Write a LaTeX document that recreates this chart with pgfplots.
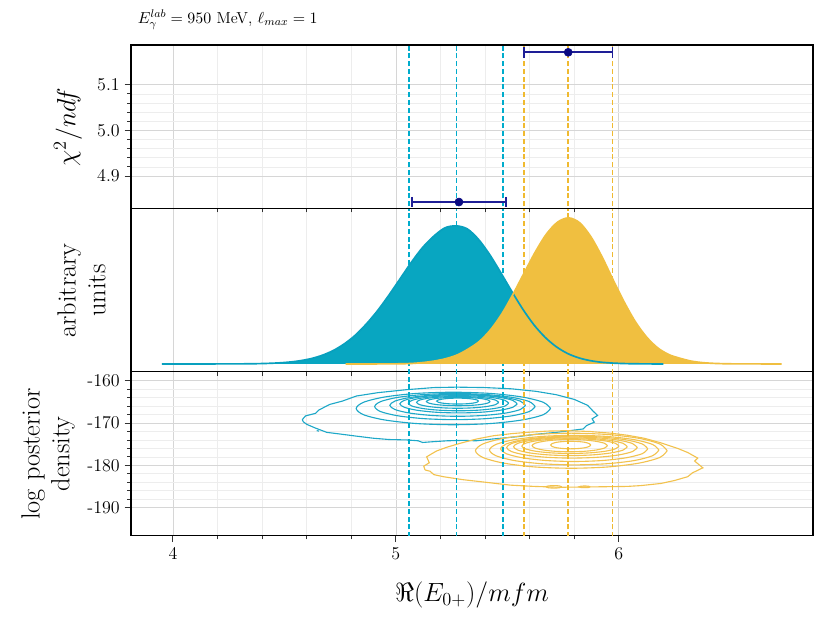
\RequirePackage{fix-cm}
\documentclass[border=0pt]{standalone}
\usepackage{pgfplots}
\pgfplotsset{compat=1.18}
\definecolor{cyF}{RGB}{8,166,193}
\definecolor{cyL}{RGB}{8,160,190}
\definecolor{cyD}{RGB}{0,172,204}
\definecolor{cyC}{RGB}{30,168,200}
\definecolor{orF}{RGB}{240,191,64}
\definecolor{orD}{RGB}{240,186,48}
\definecolor{orC}{RGB}{242,194,78}
\definecolor{navyM}{RGB}{10,10,130}
\definecolor{navyB}{RGB}{30,30,150}
\pgfplotsset{
  panel/.style={
    scale only axis, width=491.04bp, xmin=3.812, xmax=6.871,
    xtick={4,5,6}, minor x tick num=4,
    tick align=outside, tick pos=left,
    major tick length=4.6bp, minor tick length=2.6bp,
    every tick/.style={black!80, line width=0.6bp},
    axis line style={line width=0.8bp},
    grid=both,
    major grid style={black!16, line width=0.5bp},
    minor grid style={black!7, line width=0.4bp},
    tick label style={font=\fontsize{13}{15}\selectfont},
    label style={font=\fontsize{19}{21.6}\selectfont},
    ylabel style={at={(axis description cs:-0.0726,0.5)}, anchor=center, align=center},
    /pgf/number format/assume math mode=true,
  },
  vdash/.style={line width=1.1bp, dash pattern=on 3.6bp off 2bp},
  cont/.style={line width=0.8bp},
}
\begin{document}
\begin{tikzpicture}
% ---------------- bottom panel ----------------
\begin{axis}[panel, at={(0,0)}, anchor=south west, height=118bp,
  ymin=-196.7, ymax=-157.9, ytick={-190,-180,-170,-160}, minor y tick num=4,
  xlabel={$\Re(E_{0+})/mfm$},
  xlabel style={at={(axis description cs:0.5,-0.36)}, anchor=center},
  ylabel={log posterior\\density},
  ylabel style={at={(axis description cs:-0.1217,0.5)}}]
% cyan contours
\addplot[cyC, cont] coordinates {(4.580,-169.2) (4.595,-168.3) (4.640,-167.7) (4.655,-166.9) (4.703,-165.6) (4.760,-164.8) (4.823,-163.6) (4.920,-162.8) (5.048,-162.1) (5.170,-161.6) (5.273,-161.5) (5.400,-161.6) (5.520,-161.9) (5.630,-162.5) (5.720,-163.3) (5.800,-164.4) (5.860,-165.8) (5.885,-167.2) (5.905,-168.2) (5.880,-169.0) (5.890,-169.8) (5.855,-170.6) (5.840,-171.4) (5.720,-172.2) (5.620,-172.7) (5.550,-173.2) (5.430,-173.8) (5.360,-174.2) (5.300,-174.1) (5.230,-174.2) (5.170,-174.4) (5.120,-174.6) (5.100,-174.2) (5.050,-174.0) (4.970,-173.9) (4.900,-173.6) (4.823,-173.1) (4.750,-172.6) (4.690,-172.2) (4.660,-171.6) (4.640,-171.2) (4.600,-170.3) (4.585,-169.7) (4.580,-169.2)};
\addplot[cyC, cont, smooth] coordinates {(5.694,-166.55) (5.661,-165.08) (5.566,-163.83) (5.425,-162.99) (5.258,-162.70) (5.091,-162.99) (4.950,-163.83) (4.855,-165.08) (4.822,-166.55) (4.855,-168.03) (4.950,-169.27) (5.091,-170.11) (5.258,-170.40) (5.425,-170.11) (5.566,-169.27) (5.661,-168.03) (5.694,-166.55)};
\addplot[cyC, cont, smooth] coordinates {(5.625,-166.10) (5.598,-164.91) (5.520,-163.91) (5.403,-163.24) (5.265,-163.00) (5.127,-163.24) (5.010,-163.91) (4.932,-164.91) (4.905,-166.10) (4.932,-167.29) (5.010,-168.29) (5.127,-168.96) (5.265,-169.20) (5.403,-168.96) (5.520,-168.29) (5.598,-167.29) (5.625,-166.10)};
\addplot[cyC, cont, smooth] coordinates {(5.581,-165.80) (5.558,-164.80) (5.492,-163.96) (5.393,-163.40) (5.277,-163.20) (5.161,-163.40) (5.062,-163.96) (4.996,-164.80) (4.973,-165.80) (4.996,-166.80) (5.062,-167.64) (5.161,-168.20) (5.277,-168.40) (5.393,-168.20) (5.492,-167.64) (5.558,-166.80) (5.581,-165.80)};
\addplot[cyC, cont, smooth] coordinates {(5.544,-165.45) (5.524,-164.63) (5.467,-163.93) (5.382,-163.46) (5.281,-163.30) (5.180,-163.46) (5.095,-163.93) (5.038,-164.63) (5.018,-165.45) (5.038,-166.27) (5.095,-166.97) (5.180,-167.44) (5.281,-167.60) (5.382,-167.44) (5.467,-166.97) (5.524,-166.27) (5.544,-165.45)};
\addplot[cyC, cont, smooth] coordinates {(5.506,-165.30) (5.489,-164.61) (5.440,-164.03) (5.367,-163.64) (5.281,-163.50) (5.195,-163.64) (5.122,-164.03) (5.073,-164.61) (5.056,-165.30) (5.073,-165.99) (5.122,-166.57) (5.195,-166.96) (5.281,-167.10) (5.367,-166.96) (5.440,-166.57) (5.489,-165.99) (5.506,-165.30)};
\addplot[cyC, cont, smooth] coordinates {(5.461,-165.10) (5.447,-164.56) (5.407,-164.11) (5.347,-163.81) (5.277,-163.70) (5.207,-163.81) (5.147,-164.11) (5.107,-164.56) (5.093,-165.10) (5.107,-165.64) (5.147,-166.09) (5.207,-166.39) (5.277,-166.50) (5.347,-166.39) (5.407,-166.09) (5.447,-165.64) (5.461,-165.10)};
\addplot[cyC, cont, smooth] coordinates {(5.423,-164.90) (5.412,-164.52) (5.381,-164.19) (5.335,-163.98) (5.280,-163.90) (5.225,-163.98) (5.179,-164.19) (5.148,-164.52) (5.137,-164.90) (5.148,-165.28) (5.179,-165.61) (5.225,-165.82) (5.280,-165.90) (5.335,-165.82) (5.381,-165.61) (5.412,-165.28) (5.423,-164.90)};
\addplot[cyC, cont, smooth] coordinates {(5.371,-164.80) (5.364,-164.53) (5.343,-164.31) (5.313,-164.15) (5.277,-164.10) (5.241,-164.15) (5.211,-164.31) (5.190,-164.53) (5.183,-164.80) (5.190,-165.07) (5.211,-165.30) (5.241,-165.45) (5.277,-165.50) (5.313,-165.45) (5.343,-165.30) (5.364,-165.07) (5.371,-164.80)};
\addplot[cyC, cont] coordinates {(4.645,-171.80) (4.655,-171.90)};
% orange contours
\addplot[orC, cont] coordinates {(5.131,-181.1) (5.125,-180.2) (5.150,-179.4) (5.138,-178.0) (5.160,-177.3) (5.183,-176.6) (5.230,-175.7) (5.288,-174.8) (5.360,-173.8) (5.438,-173.0) (5.520,-172.5) (5.589,-172.2) (5.680,-171.9) (5.769,-171.8) (5.870,-172.0) (5.964,-172.4) (6.040,-172.9) (6.114,-173.6) (6.190,-174.7) (6.264,-176.0) (6.310,-177.0) (6.354,-178.3) (6.340,-179.0) (6.377,-180.6) (6.330,-181.8) (6.309,-182.7) (6.250,-183.6) (6.189,-184.3) (6.100,-184.8) (6.039,-185.0) (5.900,-185.1) (5.739,-185.2) (5.620,-185.0) (5.514,-184.7) (5.400,-184.0) (5.300,-183.4) (5.213,-182.7) (5.170,-182.2) (5.153,-181.4) (5.131,-181.1)};
\addplot[orC, cont, smooth] coordinates {(6.217,-176.55) (6.184,-174.96) (6.091,-173.62) (5.952,-172.72) (5.787,-172.40) (5.622,-172.72) (5.483,-173.62) (5.390,-174.96) (5.357,-176.55) (5.390,-178.14) (5.483,-179.48) (5.622,-180.39) (5.787,-180.70) (5.952,-180.39) (6.091,-179.48) (6.184,-178.14) (6.217,-176.55)};
\addplot[orC, cont, smooth] coordinates {(6.180,-176.40) (6.151,-175.06) (6.069,-173.93) (5.946,-173.17) (5.800,-172.90) (5.654,-173.17) (5.531,-173.93) (5.449,-175.06) (5.420,-176.40) (5.449,-177.74) (5.531,-178.88) (5.654,-179.63) (5.800,-179.90) (5.946,-179.63) (6.069,-178.88) (6.151,-177.74) (6.180,-176.40)};
\addplot[orC, cont, smooth] coordinates {(6.130,-176.10) (6.105,-174.95) (6.033,-173.98) (5.926,-173.33) (5.800,-173.10) (5.674,-173.33) (5.567,-173.98) (5.495,-174.95) (5.470,-176.10) (5.495,-177.25) (5.567,-178.22) (5.674,-178.87) (5.800,-179.10) (5.926,-178.87) (6.033,-178.22) (6.105,-177.25) (6.130,-176.10)};
\addplot[orC, cont, smooth] coordinates {(6.083,-175.80) (6.061,-174.84) (5.997,-174.03) (5.902,-173.49) (5.790,-173.30) (5.678,-173.49) (5.583,-174.03) (5.519,-174.84) (5.497,-175.80) (5.519,-176.76) (5.583,-177.57) (5.678,-178.11) (5.790,-178.30) (5.902,-178.11) (5.997,-177.57) (6.061,-176.76) (6.083,-175.80)};
\addplot[orC, cont, smooth] coordinates {(6.038,-175.60) (6.019,-174.80) (5.963,-174.12) (5.881,-173.66) (5.783,-173.50) (5.685,-173.66) (5.603,-174.12) (5.547,-174.80) (5.528,-175.60) (5.547,-176.40) (5.603,-177.09) (5.685,-177.54) (5.783,-177.70) (5.881,-177.54) (5.963,-177.09) (6.019,-176.40) (6.038,-175.60)};
\addplot[orC, cont, smooth] coordinates {(6.001,-175.45) (5.984,-174.78) (5.937,-174.21) (5.866,-173.83) (5.783,-173.70) (5.700,-173.83) (5.629,-174.21) (5.582,-174.78) (5.565,-175.45) (5.582,-176.12) (5.629,-176.69) (5.700,-177.07) (5.783,-177.20) (5.866,-177.07) (5.937,-176.69) (5.984,-176.12) (6.001,-175.45)};
\addplot[orC, cont, smooth] coordinates {(5.949,-175.35) (5.936,-174.80) (5.899,-174.33) (5.845,-174.01) (5.780,-173.90) (5.715,-174.01) (5.661,-174.33) (5.624,-174.80) (5.611,-175.35) (5.624,-175.91) (5.661,-176.38) (5.715,-176.69) (5.780,-176.80) (5.845,-176.69) (5.899,-176.38) (5.936,-175.91) (5.949,-175.35)};
\addplot[orC, cont, smooth] coordinates {(5.874,-175.20) (5.867,-174.86) (5.848,-174.56) (5.818,-174.37) (5.784,-174.30) (5.750,-174.37) (5.720,-174.56) (5.701,-174.86) (5.694,-175.20) (5.701,-175.55) (5.720,-175.84) (5.750,-176.03) (5.784,-176.10) (5.818,-176.03) (5.848,-175.84) (5.867,-175.55) (5.874,-175.20)};
\addplot[orC, cont, smooth] coordinates {(5.744,-185.10) (5.734,-184.89) (5.709,-184.80) (5.684,-184.89) (5.674,-185.10) (5.684,-185.31) (5.709,-185.40) (5.734,-185.31) (5.744,-185.10)};
\addplot[orC, cont, smooth] coordinates {(5.872,-185.10) (5.865,-184.96) (5.847,-184.90) (5.829,-184.96) (5.822,-185.10) (5.829,-185.24) (5.847,-185.30) (5.865,-185.24) (5.872,-185.10)};
% dashed lines
\addplot[cyD, vdash] coordinates {(5.060,-197) (5.060,-157)};
\addplot[cyD, vdash] coordinates {(5.272,-197) (5.272,-157)};
\addplot[cyD, vdash] coordinates {(5.480,-197) (5.480,-157)};
\addplot[orD, vdash] coordinates {(5.574,-197) (5.574,-157)};
\addplot[orD, vdash] coordinates {(5.773,-197) (5.773,-157)};
\addplot[orD, vdash] coordinates {(5.972,-197) (5.972,-157)};
\end{axis}
% ---------------- middle panel ----------------
\begin{axis}[panel, at={(0,118bp)}, anchor=south west, height=117.4bp,
  ymin=-24, ymax=466, ytick=\empty, xticklabels={}, xmajorticks=false, xminorticks=false,
  ylabel={arbitrary\\units}]
\addplot[cyD, vdash] coordinates {(5.060,-30) (5.060,470)};
\addplot[cyD, vdash] coordinates {(5.272,-30) (5.272,470)};
\addplot[cyD, vdash] coordinates {(5.480,-30) (5.480,470)};
\addplot[orD, vdash] coordinates {(5.574,-30) (5.574,470)};
\addplot[orD, vdash] coordinates {(5.773,-30) (5.773,470)};
\addplot[orD, vdash] coordinates {(5.972,-30) (5.972,470)};
\addplot[draw=none, fill=cyF, smooth] coordinates {(3.95,0) (4.27,0.2) (4.37,0.8) (4.42,1.6) (4.47,3.0) (4.52,5.5) (4.57,9.6) (4.62,16.1) (4.67,26.1) (4.72,40.6) (4.77,61) (4.82,87.6) (4.87,122) (4.92,162) (4.97,208) (5.02,257) (5.07,306) (5.12,350) (5.17,384) (5.22,409) (5.27,415) (5.32,406) (5.37,375) (5.42,329.5) (5.47,275) (5.52,218) (5.57,164) (5.62,117) (5.67,79.7) (5.72,51.5) (5.77,31.5) (5.82,18.4) (5.87,10.2) (5.92,5.3) (5.97,2.7) (6.02,1.25) (6.07,0.55) (6.12,0.2) (6.20,0)} \closedcycle;
\addplot[draw=none, fill=orF, smooth] coordinates {(4.775,0) (4.975,0.2) (5.025,0.6) (5.075,1.6) (5.125,4.5) (5.175,9) (5.225,16) (5.275,27) (5.325,45) (5.375,68) (5.425,103) (5.475,150) (5.525,209) (5.575,273) (5.625,336) (5.675,390) (5.725,426) (5.775,439) (5.825,424) (5.875,382) (5.925,321.5) (5.975,252) (6.025,185) (6.075,126) (6.125,80.5) (6.175,48) (6.225,28) (6.275,17) (6.325,8.5) (6.375,4) (6.425,1.8) (6.475,0.7) (6.525,0.3) (6.73,0)} \closedcycle;
\addplot[cyL, line width=1.2bp, smooth] coordinates {(3.95,0) (4.27,0.2) (4.37,0.8) (4.42,1.6) (4.47,3.0) (4.52,5.5) (4.57,9.6) (4.62,16.1) (4.67,26.1) (4.72,40.6) (4.77,61) (4.82,87.6) (4.87,122) (4.92,162) (4.97,208) (5.02,257) (5.07,306) (5.12,350) (5.17,384) (5.22,409) (5.27,415) (5.32,406) (5.37,375) (5.42,329.5) (5.47,275) (5.52,218) (5.57,164) (5.62,117) (5.67,79.7) (5.72,51.5) (5.77,31.5) (5.82,18.4) (5.87,10.2) (5.92,5.3) (5.97,2.7) (6.02,1.25) (6.07,0.55) (6.12,0.2) (6.20,0)};
\addplot[orF, line width=1.2bp, smooth] coordinates {(4.775,0) (4.975,0.2) (5.025,0.6) (5.075,1.6) (5.125,4.5) (5.175,9) (5.225,16) (5.275,27) (5.325,45) (5.375,68) (5.425,103) (5.475,150) (5.525,209) (5.575,273) (5.625,336) (5.675,390) (5.725,426) (5.775,439) (5.825,424) (5.875,382) (5.925,321.5) (5.975,252) (6.025,185) (6.075,126) (6.125,80.5) (6.175,48) (6.225,28) (6.275,17) (6.325,8.5) (6.375,4) (6.425,1.8) (6.475,0.7) (6.525,0.3) (6.73,0)};
\end{axis}
% ---------------- top panel ----------------
\begin{axis}[panel, at={(0,235.4bp)}, anchor=south west, height=118bp,
  ymin=4.828, ymax=5.187, ytick={4.9,5.0,5.1}, minor y tick num=4,
  yticklabel style={/pgf/number format/fixed, /pgf/number format/fixed zerofill, /pgf/number format/precision=1},
  xticklabels={}, xmajorticks=false, xminorticks=false,
  ylabel={$\chi^2/ndf$},
  ylabel style={at={(axis description cs:-0.0924,0.5)}},
  title={$E_\gamma^{lab}=950$ MeV, $\ell_{max}=1$},
  title style={at={(axis description cs:0.003,1)}, anchor=base west, yshift=9.6bp, font=\fontsize{11.5}{13}\selectfont}]
\addplot[cyD, vdash] coordinates {(5.060,4.8) (5.060,5.2)};
\addplot[cyD, vdash] coordinates {(5.272,4.8) (5.272,5.2)};
\addplot[cyD, vdash] coordinates {(5.480,4.8) (5.480,5.2)};
\addplot[orD, vdash] coordinates {(5.574,4.8) (5.574,5.2)};
\addplot[orD, vdash] coordinates {(5.773,4.8) (5.773,5.2)};
\addplot[orD, vdash] coordinates {(5.972,4.8) (5.972,5.2)};
\addplot[navyB, line width=1.2bp, mark=|, mark size=3.8bp, mark options={solid, line width=1.2bp}] coordinates {(5.071,4.843) (5.495,4.843)};
\addplot[navyB, line width=1.2bp, mark=|, mark size=3.8bp, mark options={solid, line width=1.2bp}] coordinates {(5.575,5.171) (5.971,5.171)};
\addplot[navyM, only marks, mark=*, mark size=2.9bp] coordinates {(5.283,4.843) (5.773,5.171)};
\end{axis}
\pgfresetboundingbox
\path[use as bounding box] (-94.32bp,-62.64bp) rectangle (503.28bp,385.8bp);
\end{tikzpicture}
\end{document}
